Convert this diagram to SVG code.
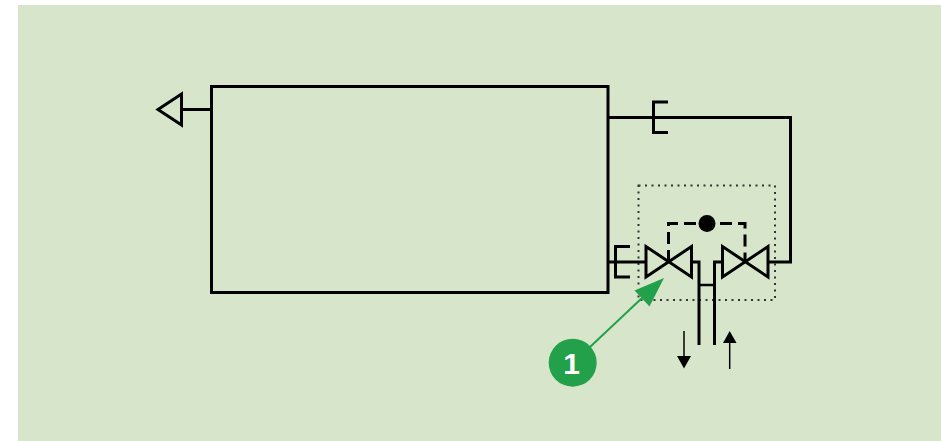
<svg xmlns="http://www.w3.org/2000/svg" width="941" height="441" viewBox="0 0 941 441">
<style>
.l{fill:none;stroke:#000;stroke-width:3;stroke-linejoin:miter;stroke-linecap:butt}
.t{stroke-width:2.5}
.dash{fill:none;stroke:#000;stroke-width:3;stroke-dasharray:12 6}
.dot{fill:none;stroke:#333;stroke-width:2;stroke-dasharray:2 4.500}
.thin{fill:none;stroke:#000;stroke-width:1.500}
</style>
<rect x="18" y="5" width="923" height="436" fill="#d7e6ca"/>
<g id="enclosure"><rect class="dot" x="638.500" y="185.500" width="136.500" height="114.500"/></g>
<g id="vessel"><rect class="l" x="211.500" y="86.500" width="396.500" height="206"/></g>
<g id="vent"><path class="l" d="M181.500 94V125L158 109.500Z"/></g>
<g id="bracket-top"><path class="l" d="M668 102H653.500V132.500H668"/></g>
<g id="bracket-bottom"><path class="l" d="M630 246.500H615.500V277H630"/></g>
<g id="valve-left"><path class="l" d="M646 246.500V277L691.500 246.500V277L646 246.500Z"/></g>
<g id="valve-right"><path class="l" d="M722.500 246.500V277L768 246.500V277L722.500 246.500Z"/></g>
<g id="actuator"><circle cx="707" cy="223.500" r="8.500" fill="#000"/></g>
<g id="connectors">
<path class="l" d="M181.500 109.500H211.500"/>
<path class="l" d="M608 117.500H790.500V262H768"/>
<path class="l" d="M608 262H646"/>
<path class="l" d="M691.500 262H699V345"/>
<path class="l" d="M722.500 262H714.500V345"/>
<path class="l t" d="M699 285H714.500"/>
<path class="dash" d="M668.500 262V223.500H745V262"/>
<path class="thin" d="M684 331V356"/>
<path d="M677 356H691L684 368.500Z" fill="#000"/>
<path class="thin" d="M729.700 343V369"/>
<path d="M723 343H736.500L729.700 331Z" fill="#000"/>
<path d="M590 347L642 298" fill="none" stroke="#23a04a" stroke-width="2"/>
<path d="M664 278L634.500 290.500L649.500 306.500Z" fill="#23a04a"/>
</g>
<g id="callout"><circle cx="572.700" cy="362.700" r="24" fill="#23a04a"/>
<text x="571.500" y="374" font-family="'Liberation Sans',Arial,sans-serif" font-size="30" font-weight="700" fill="#fff" text-anchor="middle">1</text></g>
</svg>
